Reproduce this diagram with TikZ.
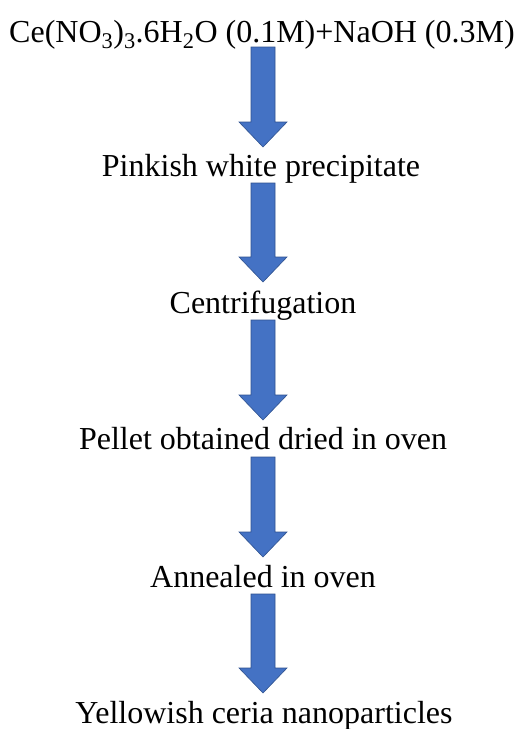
\documentclass[tikz,border=0pt]{standalone}
\usepackage{fontspec}
\setmainfont{Liberation Serif}
\definecolor{arrfill}{RGB}{68,114,196}
\definecolor{arrline}{RGB}{47,82,143}
\begin{document}
\begin{tikzpicture}[x=1pt,y=1pt,
  lbl/.style={anchor=base,inner sep=0pt,font=\fontsize{32}{36}\selectfont},
  blockarrow/.style={fill=arrfill,draw=arrline,line width=0.6pt,line join=miter}]
\useasboundingbox[fill=white] (0,0) rectangle (517,-729);
\node[lbl] (t0) at (262,-42) {Ce(NO\textsubscript{3})\textsubscript{3}.6H\textsubscript{2}O (0.1M)+NaOH (0.3M)};
\node[lbl] (t1) at (261,-176) {Pinkish white precipitate};
\node[lbl] (t2) at (263,-313) {Centrifugation};
\node[lbl] (t3) at (263,-449) {Pellet obtained dried in oven};
\node[lbl] (t4) at (263,-587) {Annealed in oven};
\node[lbl] (t5) at (264,-723) {Yellowish ceria nanoparticles};
\foreach \top/\tip [count=\i] in {47/147,183/282,320/420,457/557,594/693}{
  \coordinate (a\i s) at (263,-\top);
  \coordinate (a\i e) at (263,-\tip);
  \draw[blockarrow] ([xshift=-12pt]a\i s) -- ([xshift=12pt]a\i s)
     -- ([xshift=12pt,yshift=25pt]a\i e) -- ([xshift=24pt,yshift=25pt]a\i e)
     -- (a\i e) -- ([xshift=-24pt,yshift=25pt]a\i e)
     -- ([xshift=-12pt,yshift=25pt]a\i e) -- cycle;
}
\end{tikzpicture}
\end{document}
